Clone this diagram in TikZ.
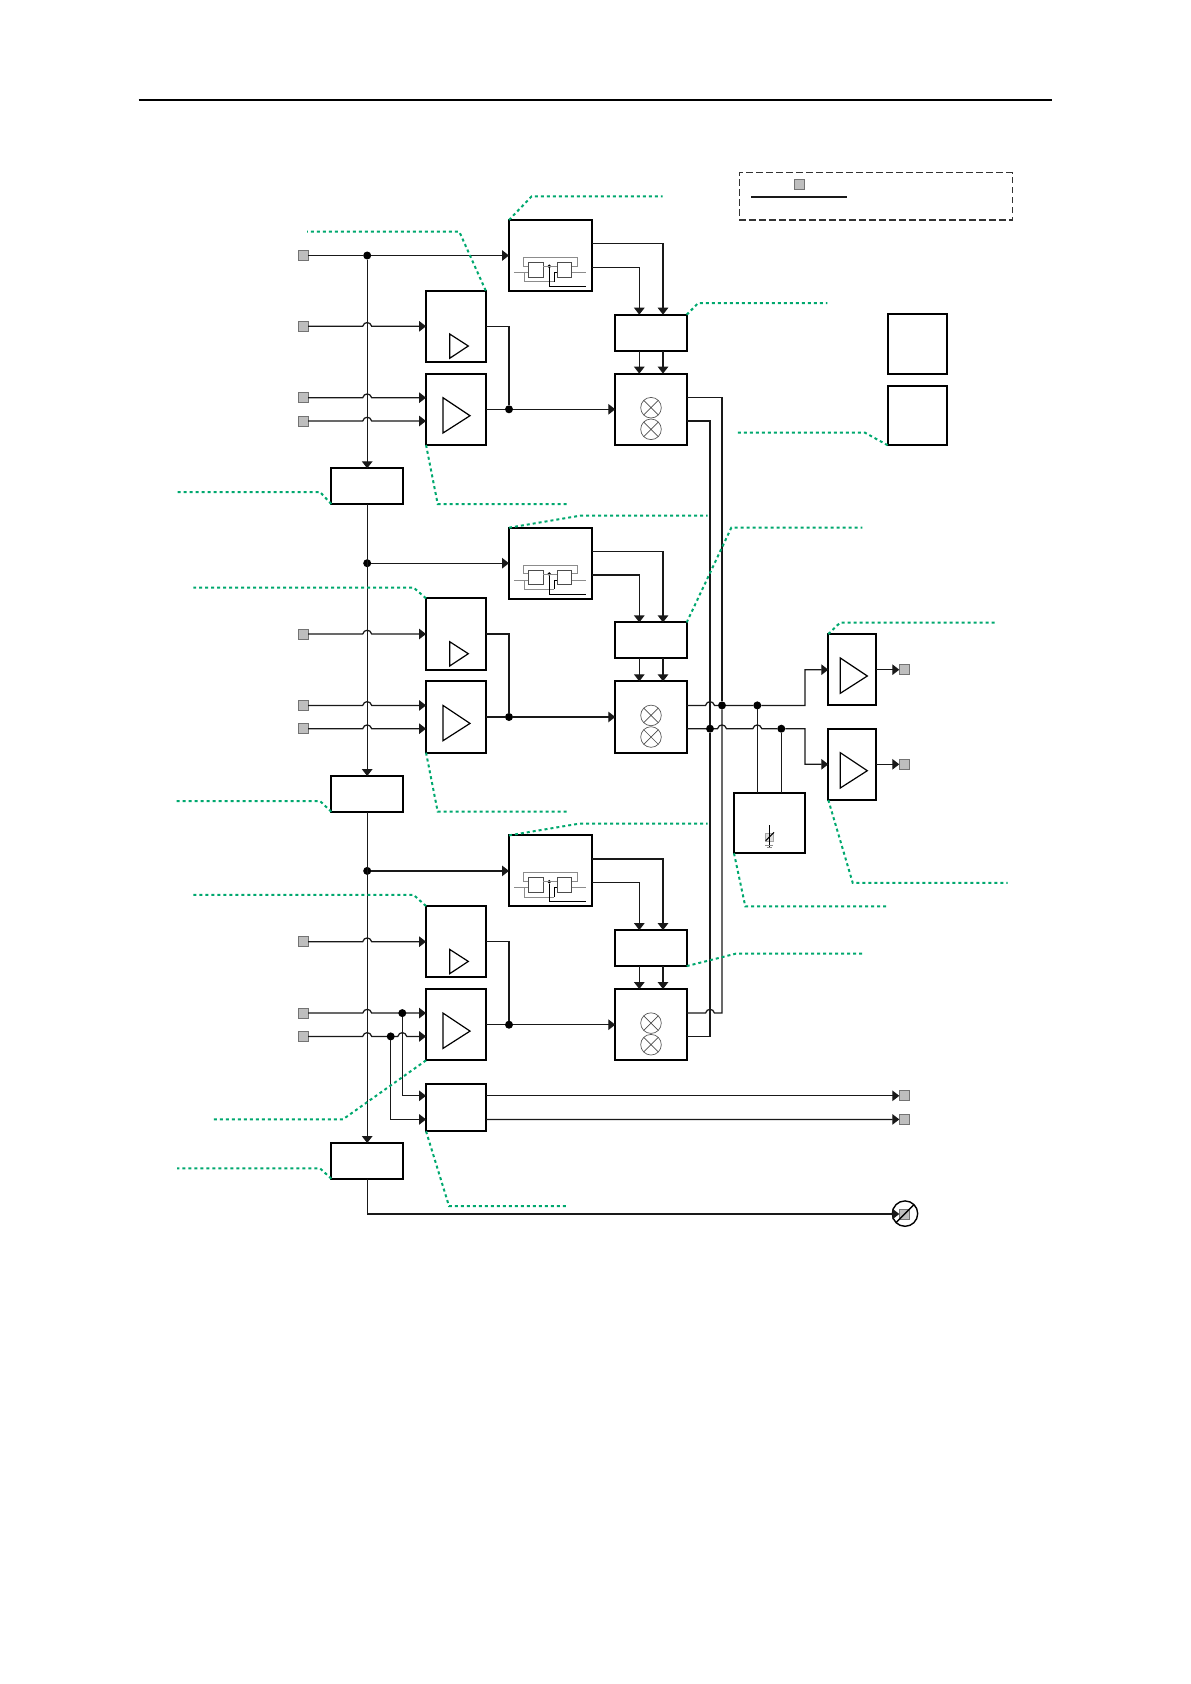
\documentclass[tikz,border=0pt]{standalone}
\usetikzlibrary{arrows.meta}
\definecolor{leadgreen}{RGB}{0,168,110}
\definecolor{termfill}{RGB}{190,190,190}
\newcommand{\hop}[2]{-- (#1-4.5,#2) .. controls (#1-3.2,#2-5) and (#1+3.2,#2-5) .. (#1+4.5,#2)}
\tikzset{
  x=1pt,y=-1pt,
  blk/.style 2 args={draw=black,line width=2pt,inner sep=0pt,outer sep=0pt,fill=none,minimum width=#1pt,minimum height=#2pt},
  term/.style={draw=black!55,fill=termfill,line width=.8pt,inner sep=0pt,outer sep=0pt,minimum size=10pt},
  dotn/.style={circle,fill=black,draw=none,inner sep=0pt,outer sep=0pt,minimum size=8pt},
  wire/.style={draw=black!90,line width=1.25pt,line join=miter},
  arr/.style={wire,-{Triangle[length=7pt,width=10.5pt]}},
  leader/.style={draw=leadgreen,line width=2pt,dash pattern=on 3pt off 3pt},
  thinp/.style={draw=black!70,line width=.7pt},
  thing/.style={draw=black!45,line width=.8pt},
  mixc/.style={circle,draw=black!65,line width=.7pt,inner sep=0pt,outer sep=0pt,minimum size=20.6pt},
  tri/.style={draw=black,line width=1.2pt,line join=miter}
}
\begin{document}
\begin{tikzpicture}
\useasboundingbox (0,0) rectangle (1191,1684);
\coordinate (ruleL) at (138.5,100);
\coordinate (ruleR) at (1052,100);
\draw[black,line width=1.5pt] (ruleL) -- (ruleR);
% legend
\node[draw=black!80,line width=1.2pt,dash pattern=on 6.5pt off 3.5pt,inner sep=0,outer sep=0,minimum width=273pt,minimum height=47.3pt] (legend) at (875.8,196.4) {};
\node[term] (legterm) at (799.2,184.5) {};
\coordinate (legL) at (751,196.6);
\coordinate (legR) at (847,196.6);
\draw[black!90,line width=1.9pt] (legL) -- (legR);
% stand-alone boxes
\node[blk={59.6}{59.7}] (r1) at (917.5,344.2) {};
\node[blk={59.6}{59.7}] (r2) at (917.5,415.4) {};
% the three repeated stages
\foreach \s/\o in {1/0,2/-307.7,3/-615.4}{
\begin{scope}[yshift=\o pt]
  \node[blk={83}{71}] (osc\s) at (550.5,255.5) {};
  \node[blk={71.4}{36}] (lo\s) at (651,332.7) {};
  \node[blk={71.4}{71.3}] (mix\s) at (651,409.3) {};
  \node[blk={59.7}{71.3}] (ampa\s) at (455.9,326.3) {};
  \node[blk={59.7}{71.3}] (ampb\s) at (455.9,409.3) {};
  \node[term] (ta\s) at (303,326.3) {};
  \node[term] (tb\s) at (303,397.7) {};
  \node[term] (tc\s) at (303,421) {};
  \node[dotn] (j\s) at (509,409.3) {};
  \node[dotn] (m\s) at (367.2,255.5) {};
  % amplifier triangles
  \draw[tri] (449.7,334) -- (449.7,358.3) -- (468.3,346) -- cycle;
  \draw[tri] (443,397.7) -- (443,433) -- (470,415.7) -- cycle;
  % mixer symbols
  \node[mixc] (xa\s) at (651,407.7) {};
  \node[mixc] (xb\s) at (651,429.3) {};
  \draw[thinp] (xa\s.45) -- (xa\s.225) (xa\s.135) -- (xa\s.315);
  \draw[thinp] (xb\s.45) -- (xb\s.225) (xb\s.135) -- (xb\s.315);
  % oscillator symbol
  \node[draw=black!70,line width=.7pt,inner sep=0,outer sep=0,minimum width=14.5pt,minimum height=14.7pt] (ffa\s) at (535.7,269.7) {};
  \node[draw=black!70,line width=.7pt,inner sep=0,outer sep=0,minimum width=14.5pt,minimum height=14.7pt] (ffb\s) at (564.5,269.7) {};
  \node[circle,fill=black,inner sep=0,outer sep=0,minimum size=3.8pt] (ffd\s) at (549.3,266.3) {};
  \draw[thing] (528.3,266) -- (523.3,266) -- (523.3,257.3) -- (577,257.3) -- (577,266) -- (571.7,266);
  \draw[thing] (514,272.3) -- (528.3,272.3) (571.7,272.3) -- (586,272.3);
  \draw[thing] (524,272.3) -- (524,281.7) -- (554,281.7);
  \draw[thing] (543,266.3) -- (557.2,266.3);
  \draw[thinp,black] (ffd\s) -- (549.3,286.3) -- (586,286.3);
  \draw[thinp,black] (557.2,272.3) -- (554,272.3) -- (554,281.7);
  % oscillator outputs and local-oscillator ports
  \coordinate (oa\s) at (592,243.7);
  \coordinate (ob\s) at (592,267.3);
  \draw[arr] (oa\s) -| ([xshift=12pt]lo\s.north);
  \draw[arr] (ob\s) -| ([xshift=-11.7pt]lo\s.north);
  \draw[arr] ([xshift=12pt]lo\s.south) -- ([xshift=12pt]mix\s.north);
  \draw[arr] ([xshift=-11.7pt]lo\s.south) -- ([xshift=-11.7pt]mix\s.north);
  % amplifier outputs
  \draw[wire] (ampa\s.east) -| (j\s);
  \draw[wire] (ampb\s.east) -- (j\s);
  \draw[arr] (j\s) -- (mix\s.west);
  % inputs hopping over the main line
  \draw[arr] (ta\s.east) \hop{367.2}{326.3} -- (ampa\s.west);
  \draw[arr] (tb\s.east) \hop{367.2}{397.7} -- ([yshift=11.6pt]ampb\s.west);
\end{scope}
}
\node[blk={71.7}{35.7}] (left1) at (367.2,486.2) {};
\node[blk={71.7}{35.7}] (left2) at (367.2,793.9) {};
\node[blk={71.7}{35.7}] (left3) at (367.2,1160.9) {};
\draw[arr] (tc1.east) \hop{367.2}{421} -- ([yshift=-11.7pt]ampb1.west);
\draw[arr] (tc2.east) \hop{367.2}{728.7} -- ([yshift=-11.7pt]ampb2.west);
\draw[arr] (tc3.east) \hop{367.2}{1036.4} \hop{402.3}{1036.4} -- ([yshift=-11.7pt]ampb3.west);
% main line
\node[term] (t0) at (303,255.5) {};
\draw[arr] (t0.east) -- (m1) -- (osc1.west);
\draw[arr] (m1) -- (left1.north);
\draw[arr] (left1.south) -- (left2.north);
\draw[arr] (left2.south) -- (left3.north);
\draw[arr] (m2) -- (osc2.west);
\draw[arr] (m3) -- (osc3.west);
% lower box
\node[blk={59.7}{47.3}] (q) at (455.9,1107.6) {};
\node[dotn] (dp) at (402.3,1013.1) {};
\node[dotn] (dq) at (390.7,1036.4) {};
\draw[arr] (dp) |- ([yshift=11.8pt]q.west);
\draw[arr] (dq) |- ([yshift=-11.8pt]q.west);
\node[term] (tq1) at (904.3,1095.8) {};
\node[term] (tq2) at (904.3,1119.4) {};
\draw[arr] ([yshift=11.8pt]q.east) -- (tq1.west);
\draw[arr] ([yshift=-11.8pt]q.east) -- (tq2.west);
% not connected terminal
\node[term] (tn) at (904.3,1214) {};
\node[circle,draw=black,line width=1.4pt,inner sep=0,outer sep=0,minimum size=25.4pt] (nc) at (905,1213.6) {};
\draw[black,line width=1.4pt] (nc.225) -- (nc.45);
\draw[arr] (left3.south) |- (tn.west);
% output amplifiers
\node[blk={47.7}{71.3}] (o1) at (852.15,669.7) {};
\node[blk={47.7}{71.3}] (o2) at (852.15,764.3) {};
\draw[tri] (840.3,658) -- (840.3,693.3) -- (867.3,676) -- cycle;
\draw[tri] (840.3,752.7) -- (840.3,788) -- (867.3,770.7) -- cycle;
\node[term] (to1) at (904.3,669.7) {};
\node[term] (to2) at (904.3,764.3) {};
\draw[arr] (o1.east) -- (to1.west);
\draw[arr] (o2.east) -- (to2.west);
% capacitor box
\node[blk={71}{60}] (cap) at (769.5,823.3) {};
\draw[draw=black!35,fill=black!12,line width=.7pt] (765.3,833) rectangle (773.3,841.5);
\draw[black,line width=1pt] (769.3,825) -- (769.3,848.3);
\draw[black,line width=1pt] (765.7,840.7) -- (774,832.3);
\draw[thing] (765.3,845) -- (773.3,845) (766.8,847) -- (771.8,847);
% output bus
\node[dotn] (da) at (722,705.4) {};
\node[dotn] (db) at (710,728.7) {};
\node[dotn] (dc) at (757.3,705.4) {};
\node[dotn] (dd) at (781.3,728.7) {};
\draw[wire] ([yshift=11.6pt]mix1.east) -| (da);
\draw[wire] ([yshift=-11.7pt]mix1.east) -| (db);
\draw[wire] ([yshift=11.6pt]mix3.east) \hop{710}{1013.1} -| (da);
\draw[wire] ([yshift=-11.7pt]mix3.east) -| (db);
\coordinate (ka) at (805,705.4);
\coordinate (kb) at (805,728.7);
\draw[arr] ([yshift=11.6pt]mix2.east) \hop{710}{705.4} -- (da) -- (dc) -- (ka) |- (o1.west);
\draw[arr] ([yshift=-11.7pt]mix2.east) -- (db) \hop{722}{728.7} \hop{757.3}{728.7} -- (dd) -- (kb) |- (o2.west);
\draw[wire] (dc) -- (dc |- cap.north);
\draw[wire] (dd) -- (dd |- cap.north);
% leaders
\draw[leader] (osc1.north west) -- (531.7,196.3) -- (662.7,196.3) coordinate (le1);
\draw[leader] (ampa1.north east) -- (459.3,231.7) -- (307,231.7) coordinate (le2);
\draw[leader] (ampb1.south west) -- (437.7,504) -- (566.7,504) coordinate (le3);
\draw[leader] (left1.south west) -- (320,492) -- (177,492) coordinate (le4);
\draw[leader] (lo1.north east) -- (698.3,303) -- (827.3,303) coordinate (le5);
\draw[leader] (r2.south west) -- (865,432.7) -- (735,432.7) coordinate (le6);
\draw[leader] (osc2.north west) -- (580,515.7) -- (707.7,515.7) coordinate (le7);
\draw[leader] (lo2.north east) -- (731.4,527.5) -- (862.4,527.5) coordinate (le8);
\draw[leader] (ampa2.north west) -- (413.5,587.5) -- (193.3,587.5) coordinate (le9);
\draw[leader] (ampb2.south west) -- (437.7,811.7) -- (566.7,811.7) coordinate (le10);
\draw[leader] (left2.south west) -- (320,801) -- (176,801) coordinate (le11);
\draw[leader] (o1.north west) -- (840,622.7) -- (994.5,622.7) coordinate (le12);
\draw[leader] (o2.south west) -- (852.7,882.8) -- (1007.5,882.8) coordinate (le13);
\draw[leader] (cap.south west) -- (745.3,906.4) -- (887,906.4) coordinate (le14);
\draw[leader] (lo3.south east) -- (735.6,953.7) -- (862.4,953.7) coordinate (le15);
\draw[leader] (osc3.north west) -- (580,823.5) -- (707.7,823.5) coordinate (le16);
\draw[leader] (ampa3.north west) -- (413.5,894.8) -- (193.3,894.8) coordinate (le17);
\draw[leader] (ampb3.south west) -- (343,1119.3) -- (211.6,1119.3) coordinate (le18);
\draw[leader] (left3.south west) -- (320,1168.3) -- (177.2,1168.3) coordinate (le19);
\draw[leader] (q.south west) -- (449,1206) -- (567,1206) coordinate (le20);
\end{tikzpicture}
\end{document}
